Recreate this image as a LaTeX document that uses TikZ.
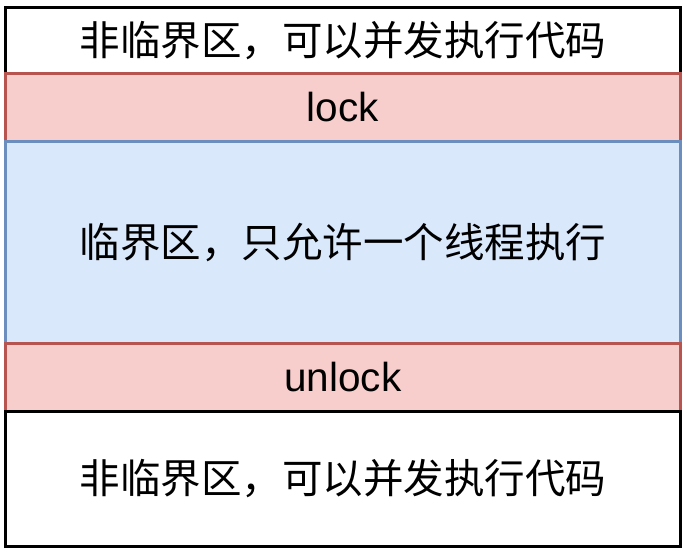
\documentclass[tikz,border=0pt]{standalone}
\usepackage{fontspec}
\setmainfont{Liberation Sans}
\newfontfamily\cjk{Noto Sans CJK SC}
\definecolor{redfill}{HTML}{F8CECC}
\definecolor{redline}{HTML}{B85450}
\definecolor{bluefill}{HTML}{DAE8FC}
\definecolor{blueline}{HTML}{6C8EBF}
\begin{document}
\begin{tikzpicture}[x=1pt,y=-1pt,
  band/.style={draw, line width=2.6pt, rectangle, minimum width=675pt, inner sep=0pt,
    font=\fontsize{40.5}{44}\selectfont\cjk},
  plainband/.style={band, draw=black, fill=white},
  lockband/.style={band, draw=redline, fill=redfill, font=\fontsize{40.5}{44}\selectfont},
  critband/.style={band, draw=blueline, fill=bluefill}]
  \useasboundingbox (0,0) rectangle (690,552);
  % stacked bands, each later one drawn over the shared edge of the one above
  \node[plainband, minimum height=66pt, anchor=north west] (top) at (4,6) {非临界区，可以并发执行代码};
  \node[lockband, minimum height=68pt, anchor=north west] (lock) at (4,72) {lock};
  \node[critband, minimum height=203pt, anchor=north west] (crit) at (4,140) {临界区，只允许一个线程执行};
  \node[lockband, minimum height=68pt, anchor=north west] (unlock) at (4,342) {unlock};
  \node[plainband, minimum height=135pt, anchor=north west] (bottom) at (4,410) {非临界区，可以并发执行代码};
\end{tikzpicture}
\end{document}
